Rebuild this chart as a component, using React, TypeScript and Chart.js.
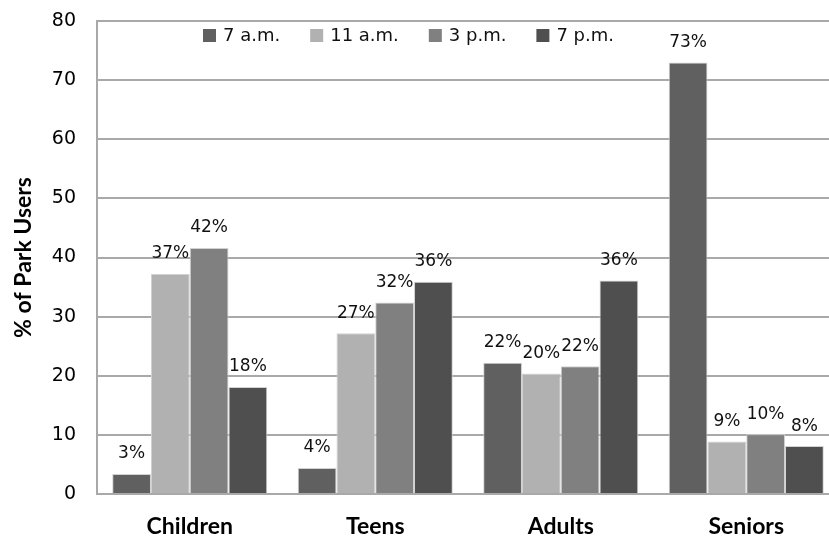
import { useEffect, useRef } from "react";
import { Chart, registerables } from "chart.js";

Chart.register(...registerables);

// Share of park users by age group at four times of day (%)
const categories = ["Children", "Teens", "Adults", "Seniors"];
const seriesNames = ["7 a.m.", "11 a.m.", "3 p.m.", "7 p.m."];
const at7am = [3.4, 4.4, 22.2, 73.0];
const at11am = [37.2, 27.2, 20.4, 8.9];
const at3pm = [41.6, 32.4, 21.6, 10.1];
const at7pm = [18.1, 35.9, 36.1, 8.1];
const yTicks = [0, 10, 20, 30, 40, 50, 60, 70, 80];

const seriesColors = ["#606060", "#b1b1b1", "#808080", "#4f4f4f"];
const gridColor = "#a9a9a9";

// Percent labels above each bar
const valueLabels = {
  id: "valueLabels",
  afterDatasetsDraw(chart: any) {
    const ctx = chart.ctx;
    ctx.save();
    ctx.font = '17px "DejaVu Sans"';
    ctx.fillStyle = "#111";
    ctx.textAlign = "center";
    ctx.textBaseline = "middle";
    chart.data.datasets.forEach((ds: any, i: number) => {
      const meta = chart.getDatasetMeta(i);
      meta.data.forEach((bar: any, j: number) => {
        ctx.fillText(`${Math.round(ds.data[j])}%`, bar.x, bar.y - 20);
      });
    });
    ctx.restore();
  },
};

// Series key drawn in a single row inside the top of the plot
const seriesKey = {
  id: "seriesKey",
  afterDraw(chart: any) {
    const ctx = chart.ctx;
    ctx.save();
    ctx.font = '18px "DejaVu Sans"';
    ctx.textBaseline = "middle";
    ctx.textAlign = "left";
    let x = 203;
    chart.data.datasets.forEach((ds: any) => {
      ctx.fillStyle = ds.backgroundColor;
      ctx.fillRect(x, 29, 13, 13);
      ctx.fillStyle = "#111";
      ctx.fillText(ds.label, x + 20, 36);
      x += 20 + ctx.measureText(ds.label).width + 30;
    });
    ctx.restore();
  },
};

export default function App() {
  const canvasRef = useRef<HTMLCanvasElement | null>(null);

  useEffect(() => {
    if (!canvasRef.current) return;
    const series = [at7am, at11am, at3pm, at7pm];
    const chart = new Chart(canvasRef.current, {
      type: "bar",
      data: {
        labels: categories,
        datasets: series.map((values, i) => ({
          label: seriesNames[i],
          data: values,
          backgroundColor: seriesColors[i],
          borderColor: "#d2d2d2",
          borderWidth: 1,
          categoryPercentage: 0.836,
          barPercentage: 1,
        })),
      },
      options: {
        responsive: false,
        animation: false,
        devicePixelRatio: 1,
        layout: { padding: { top: 21, right: 0, bottom: 0, left: 0 } },
        plugins: {
          legend: { display: false },
          tooltip: { enabled: false },
        },
        scales: {
          x: {
            grid: { display: false },
            border: { display: true, color: gridColor, width: 2 },
            ticks: {
              color: "#000",
              padding: 11,
              font: { family: "Lato", size: 23, weight: "bold" },
            },
            afterFit(scale: any) {
              scale.height = 45;
              scale.paddingLeft = 0;
              scale.paddingRight = 0;
            },
          },
          y: {
            min: 0,
            max: 80,
            grid: { color: gridColor, lineWidth: 2, drawTicks: false },
            border: { display: true, color: gridColor, width: 2 },
            ticks: {
              color: "#000",
              padding: 21,
              font: { family: "DejaVu Sans", size: 19 },
            },
            afterBuildTicks(scale: any) {
              scale.ticks = yTicks.map((v) => ({ value: v }));
            },
            afterFit(scale: any) {
              scale.width = 97;
              scale.paddingTop = 0;
              scale.paddingBottom = 0;
            },
            title: {
              display: true,
              text: "% of Park Users",
              color: "#000",
              padding: { top: 10, bottom: 0 },
              font: { family: "Lato", size: 23, weight: "bold" },
            },
          },
        },
      },
      plugins: [valueLabels, seriesKey],
    });
    return () => chart.destroy();
  }, []);

  return (
    <div
      style={{
        position: "fixed",
        left: 0,
        top: 0,
        width: 829,
        height: 539,
        overflow: "hidden",
        background: "#fff",
      }}
    >
      <canvas ref={canvasRef} width={839} height={539} style={{ display: "block" }} />
    </div>
  );
}
